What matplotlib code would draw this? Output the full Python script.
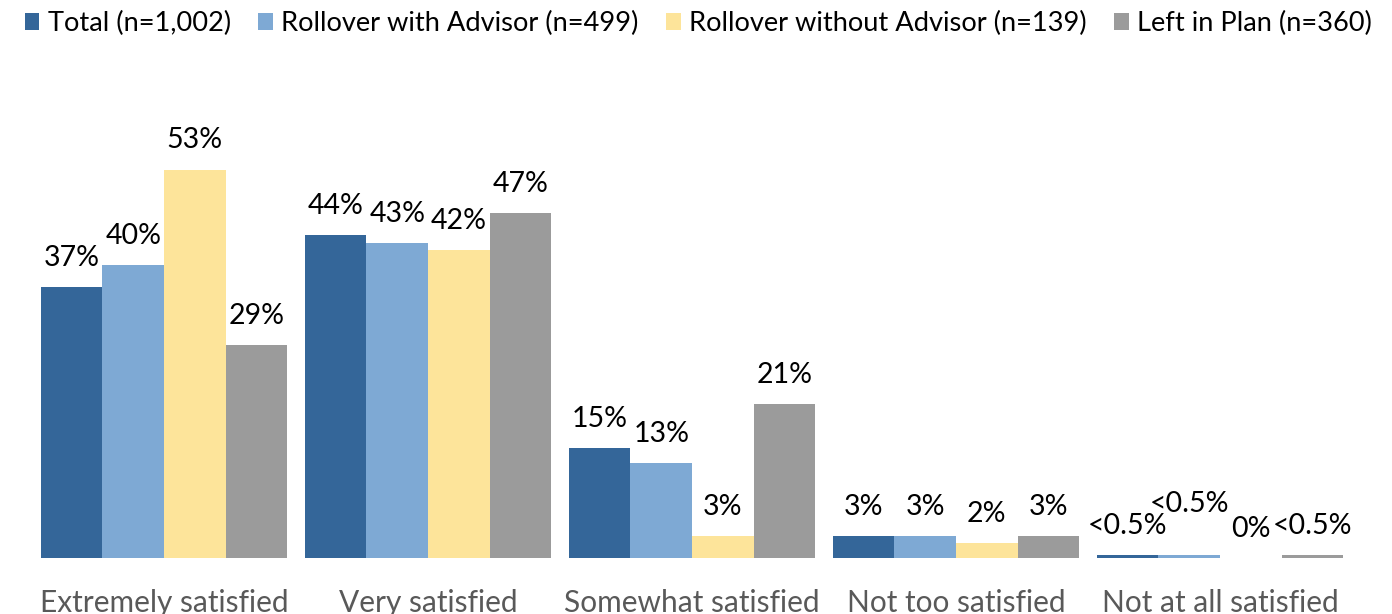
import numpy as np
import matplotlib.pyplot as plt
from matplotlib.patches import Patch

plt.rcParams['font.family'] = ['Lato', 'DejaVu Sans']

categories = ['Extremely satisfied', 'Very satisfied', 'Somewhat satisfied',
              'Not too satisfied', 'Not at all satisfied']
series_names = ['Total (n=1,002)', 'Rollover with Advisor (n=499)',
                'Rollover without Advisor (n=139)', 'Left in Plan (n=360)']
# values in %, "<0.5%" drawn as a thin sliver
total = [37, 44, 15, 3, 0.35]
with_advisor = [40, 43, 13, 3, 0.35]
without_advisor = [53, 42, 3, 2, 0]
left_in_plan = [29, 47, 21, 3, 0.35]
labels = [
    ['37%', '44%', '15%', '3%', '<0.5%'],
    ['40%', '43%', '13%', '3%', '<0.5%'],
    ['53%', '42%', '3%', '2%', '0%'],
    ['29%', '47%', '21%', '3%', '<0.5%'],
]
colors = ['#346699', '#7EA9D4', '#FDE49A', '#9B9B9B']

data = [total, with_advisor, without_advisor, left_in_plan]

fig = plt.figure(figsize=(13.92, 6.14), dpi=100)
ax = fig.add_axes([32 / 1392, 56 / 614, 1320 / 1392, 498 / 614])

x = np.arange(len(categories))
w = 0.233
for i, vals in enumerate(data):
    pos = x + (i - 1.5) * w
    ax.bar(pos, vals, width=w, color=colors[i], linewidth=0)
    for j, (p, v) in enumerate(zip(pos, vals)):
        off = 21
        if i == 1 and j == 4:
            off = 37  # staggered so the two "<0.5%" labels don't collide
        ax.annotate(labels[i][j], (p, v), xytext=(0, off), textcoords='offset points',
                    ha='center', va='center', fontsize=20.5, color='black')

ax.set_xlim(-0.5, 4.5)
ax.set_ylim(0, 498 / 7.33)
ax.set_xticks(x)
ax.set_xticklabels(categories, fontsize=21.5, color='#595959')
ax.tick_params(axis='x', length=0, pad=22)
ax.set_yticks([])
for s in ax.spines.values():
    s.set_visible(False)

handles = [Patch(facecolor=c, edgecolor='none') for c in colors]
fig.legend(handles, series_names, loc='upper left', bbox_to_anchor=(0.0, 1.022),
           ncol=4, frameon=False, fontsize=19.6, handlelength=0.55, handleheight=0.55,
           handletextpad=0.3, columnspacing=1.0)

fig.savefig('out.png', dpi=100)
